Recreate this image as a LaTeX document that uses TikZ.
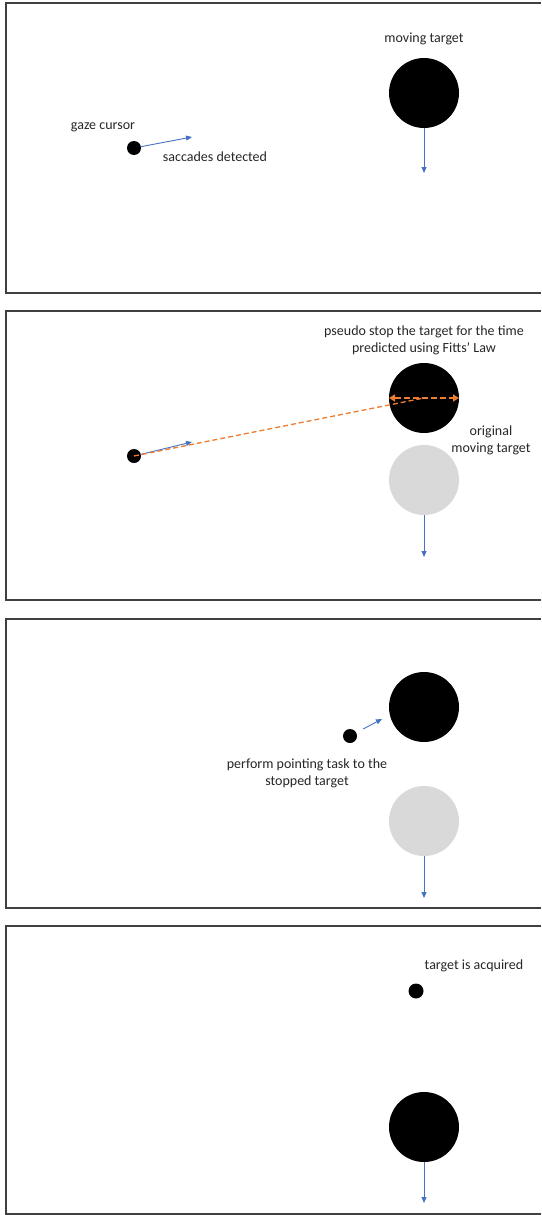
\documentclass[tikz,border=0pt]{standalone}
\usepackage{fontspec}
\setmainfont{Carlito}
\usetikzlibrary{arrows.meta}

\definecolor{moveblue}{HTML}{4472C4}
\definecolor{fittsorange}{HTML}{ED7D31}
\definecolor{ghostgray}{HTML}{D9D9D9}
\definecolor{framegray}{HTML}{404040}
\definecolor{txtgray}{HTML}{262626}

\begin{document}
\begin{tikzpicture}[x=1pt,y=-1pt,
  frame/.style={draw=framegray, line width=1.2pt},
  target/.style={circle, fill=black, minimum size=70pt, inner sep=0pt, outer sep=0pt},
  ghost/.style={target, fill=ghostgray},
  cursor/.style={circle, fill=black, minimum size=14pt, inner sep=0pt, outer sep=0pt},
  move/.style={draw=moveblue, line width=0.9pt, -{Triangle[length=6pt,width=5pt]}},
  fitts/.style={draw=fittsorange, line width=1.3pt, dash pattern=on 5pt off 3pt},
  span/.style={draw=fittsorange, line width=2pt, dash pattern=on 6pt off 3pt,
    {Triangle[length=6pt,width=7pt]}-{Triangle[length=6pt,width=7pt]}},
  txt/.style={text=txtgray, font=\fontsize{14}{17}\selectfont, align=center, inner sep=0pt}]

\useasboundingbox (0,0) rectangle (541,1215);

% Panel frames (open on the right)
\foreach \top/\bot in {3/293, 311/600, 619/908, 926/1214}
{
\draw[frame] (541,\top) -| (6,\bot) -- (541,\bot);
}

% Panel 1: saccade detected
\node[target] (t1) at (424,93) {};
\node[txt] (m1) at (424,39) {moving target};
\coordinate (d1) at (424,173);
\draw[move] (t1.south) -- (d1);
\node[cursor] (c1) at (134,148) {};
\node[txt] (g1) at (103,127) {gaze cursor};
\coordinate (s1) at (192,137);
\draw[move] (c1) -- (s1);
\node[txt] (sd) at (215,157) {saccades detected};

% Panel 2: pseudo stop
\node[txt] (ps) at (424,340) {pseudo stop the target for the time\\predicted using Fitts’ Law};
\node[ghost] (o2) at (424,480) {};
\node[target] (t2) at (424,398) {};
\node[txt] (om) at (491,440) {original\\moving target};
\coordinate (d2) at (424,557);
\draw[move] (o2.south) -- (d2);
\node[cursor] (c2) at (134,456) {};
\coordinate (s2) at (192,442);
\draw[move] (c2) -- (s2);
\draw[fitts] (c2.center) -- (t2.center);
\draw[span] (t2.west) -- (t2.east);

% Panel 3: pointing task
\node[target] (t3) at (424,707) {};
\node[ghost] (o3) at (424,821) {};
\coordinate (d3) at (424,898);
\draw[move] (o3.south) -- (d3);
\node[cursor] (c3) at (350,736) {};
\coordinate (s3) at (382,719);
\draw[move, shorten <=8pt] (c3) -- (s3);
\node[txt] (pp) at (307,773) {perform pointing task to the\\stopped target};

% Panel 4: acquired
\node[txt] (ta) at (474,966) {target is acquired};
\node[cursor, minimum size=15pt] (c4) at (416,991) {};
\node[target] (t4) at (424,1127) {};
\coordinate (d4) at (424,1203);
\draw[move] (t4.south) -- (d4);

\end{tikzpicture}
\end{document}
